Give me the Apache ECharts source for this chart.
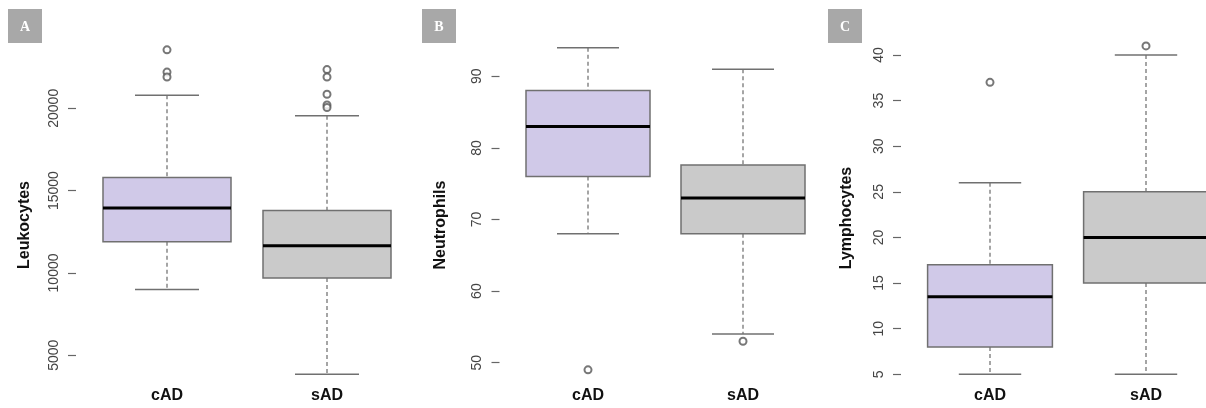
<!DOCTYPE html>
<html>
<head>
<meta charset="utf-8">
<script src="https://cdn.jsdelivr.net/npm/echarts@6/dist/echarts.min.js"></script>
<style>
html,body{margin:0;padding:0;background:#fff;}
#c{width:1206px;height:408px;}
</style>
</head>
<body>
<div id="c"></div>
<script>
// ---------- DATA ----------
const categories = ['cAD', 'sAD'];
// stats: [min(whisker), Q1, median, Q3, max(whisker)]
const leukoStats = [[9000, 11900, 13950, 15800, 20800], [3850, 9700, 11650, 13800, 19550]];
const leukoOutCAD = [23550, 22200, 21900];
const leukoOutSAD = [22350, 21900, 20850, 20200, 20050];
const leukoTicks = [5000, 10000, 15000, 20000];

const neutroStats = [[68, 76, 83, 88, 94], [54, 68, 73, 77.6, 91]];
const neutroOutCAD = [49];
const neutroOutSAD = [53];
const neutroTicks = [50, 60, 70, 80, 90];

const lymphoStats = [[5, 8, 13.5, 17, 26], [5, 15, 20, 25, 40]];
const lymphoOutCAD = [37];
const lymphoOutSAD = [41];
const lymphoTicks = [5, 10, 15, 20, 25, 30, 35, 40];

const panelLetters = ['A', 'B', 'C'];
const yTitles = ['Leukocytes', 'Neutrophils', 'Lymphocytes'];
const fillColors = ['#d0c9e8', '#cacaca'];

// ---------- LAYOUT ----------
function gridFrom(vHi, yHi, vLo, yLo, min, max, left, width) {
  const slope = (yLo - yHi) / (vHi - vLo);
  const top = yHi - (max - vHi) * slope;
  return { left: left, top: top, width: width, height: (max - min) * slope,
    outerBoundsMode: 'none', containLabel: false };
}
const panels = [
  { stats: leukoStats, outs: [leukoOutCAD, leukoOutSAD], ticks: leukoTicks,
    min: 3500, max: 24500, hi: [20000, 108.3], lo: [5000, 355.3], left: 87, width: 320,
    titleX: 25, titleY: 225, letterX: 8 },
  { stats: neutroStats, outs: [neutroOutCAD, neutroOutSAD], ticks: neutroTicks,
    min: 47.58, max: 96, hi: [90, 76.3], lo: [50, 362.7], left: 510.5, width: 310,
    titleX: 441, titleY: 225, letterX: 422 },
  { stats: lymphoStats, outs: [lymphoOutCAD, lymphoOutSAD], ticks: lymphoTicks,
    min: 4.38, max: 43, hi: [40, 55], lo: [5, 374.3], left: 912, width: 312,
    titleX: 847, titleY: 218, letterX: 828 }
];

const grids = [], xAxes = [], yAxes = [], series = [], graphics = [];

function renderBox(params, api) {
  const idx = api.value(0);
  const vals = [api.value(1), api.value(2), api.value(3), api.value(4), api.value(5)];
  const p = vals.map(v => api.coord([idx, v]));
  const cx = p[0][0];
  const band = api.size([1, 0])[0];
  const bw = band * 0.8;
  const cw = bw / 2;
  const gray = '#707070';
  const dash = { stroke: '#6a6a6a', lineWidth: 1.2, lineDash: [4, 3] };
  return {
    type: 'group',
    children: [
      { type: 'line', shape: { x1: cx, y1: p[4][1], x2: cx, y2: p[3][1] }, style: dash },
      { type: 'line', shape: { x1: cx, y1: p[1][1], x2: cx, y2: p[0][1] }, style: dash },
      { type: 'line', shape: { x1: cx - cw / 2, y1: p[4][1], x2: cx + cw / 2, y2: p[4][1] }, style: { stroke: gray, lineWidth: 1.5 } },
      { type: 'line', shape: { x1: cx - cw / 2, y1: p[0][1], x2: cx + cw / 2, y2: p[0][1] }, style: { stroke: gray, lineWidth: 1.5 } },
      { type: 'rect', shape: { x: cx - bw / 2, y: p[3][1], width: bw, height: p[1][1] - p[3][1] },
        style: { fill: fillColors[idx], stroke: gray, lineWidth: 1.5 } },
      { type: 'line', shape: { x1: cx - bw / 2, y1: p[2][1], x2: cx + bw / 2, y2: p[2][1] }, style: { stroke: '#000', lineWidth: 3 } }
    ]
  };
}

panels.forEach((pn, i) => {
  grids.push(gridFrom(pn.hi[0], pn.hi[1], pn.lo[0], pn.lo[1], pn.min, pn.max, pn.left, pn.width));
  xAxes.push({
    type: 'category', gridIndex: i, data: categories, boundaryGap: true,
    axisLine: { show: false }, axisTick: { show: false }, splitLine: { show: false },
    axisLabel: { margin: 8, fontFamily: 'Liberation Sans, Arial, sans-serif', fontWeight: 'bold', fontSize: 16, color: '#111' }
  });
  yAxes.push({
    type: 'value', gridIndex: i, min: pn.min, max: pn.max, offset: 11,
    axisLine: { show: false }, splitLine: { show: false },
    axisTick: { show: true, length: 8, customValues: pn.ticks, lineStyle: { color: '#666', width: 1.2 } },
    axisLabel: { show: true, customValues: pn.ticks, rotate: 90, margin: 15, fontSize: 14,
      fontFamily: 'Liberation Sans, Arial, sans-serif', color: '#444',
      formatter: function (v) { return String(v); } }
  });
  series.push({
    type: 'custom', xAxisIndex: i, yAxisIndex: i, clip: false,
    encode: { x: 0, y: [1, 2, 3, 4, 5] },
    data: pn.stats.map((s, k) => [k].concat(s)),
    renderItem: renderBox
  });
  const outData = [];
  pn.outs.forEach((arr, k) => arr.forEach(v => outData.push([k, v])));
  series.push({
    type: 'scatter', xAxisIndex: i, yAxisIndex: i, symbol: 'emptyCircle', symbolSize: 7,
    itemStyle: { color: '#555', borderWidth: 1.3 },
    z: 5, data: outData
  });
  graphics.push({
    type: 'rect', left: pn.letterX, top: 9, shape: { width: 34, height: 34 }, style: { fill: '#a8a8a8' }
  });
  graphics.push({
    type: 'text', x: pn.letterX + 17, y: 27,
    style: { text: panelLetters[i], fill: '#fff', font: 'bold 14px "Liberation Serif", "DejaVu Serif", serif',
      textAlign: 'center', textVerticalAlign: 'middle' }
  });
  graphics.push({
    type: 'text', x: pn.titleX, y: pn.titleY, rotation: Math.PI / 2,
    style: { text: yTitles[i], fill: '#111', font: 'bold 16px "Liberation Sans", Arial, sans-serif',
      textAlign: 'center', textVerticalAlign: 'middle' }
  });
});

const chart = echarts.init(document.getElementById('c'), null, { renderer: 'canvas' });
chart.setOption({
  animation: false,
  backgroundColor: '#fff',
  grid: grids,
  xAxis: xAxes,
  yAxis: yAxes,
  series: series,
  graphic: graphics
});
</script>
</body>
</html>
